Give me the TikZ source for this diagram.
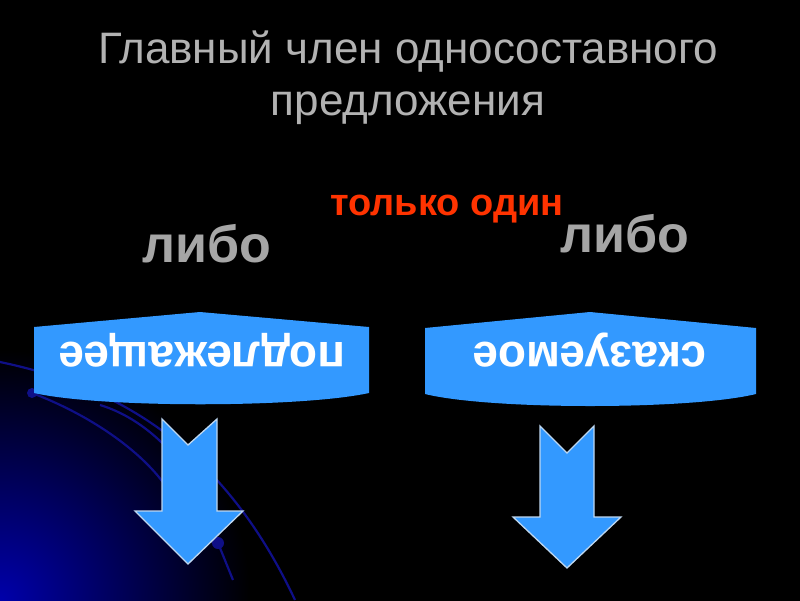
\documentclass[tikz,border=0pt]{standalone}
\usepackage{fontspec}
\setmainfont{Liberation Sans}
\definecolor{bannerblue}{RGB}{51,153,255}
\definecolor{arrowedge}{RGB}{190,215,240}
\definecolor{titlegray}{RGB}{178,178,178}
\definecolor{ligray}{RGB}{166,166,166}
\definecolor{redtxt}{RGB}{255,51,0}
\definecolor{bgblue}{RGB}{0,0,170}
\definecolor{swoosh}{RGB}{15,15,135}
\tikzset{
  titletext/.style={text=titlegray, font=\fontsize{44}{52}\selectfont, anchor=base, inner sep=0pt},
  libotext/.style={text=ligray, font=\bfseries\fontsize{52}{60}\selectfont, anchor=base, inner sep=0pt},
  bannertext/.style={text=white, font=\bfseries\fontsize{46}{50}\selectfont, anchor=base, rotate=180, inner sep=0pt},
  banner/.style={fill=bannerblue},
  downarrow/.style={fill=bannerblue, draw=arrowedge, line width=1.3pt, line join=miter},
  swooshline/.style={draw=swoosh, line width=2.2pt}
}
\begin{document}
\begin{tikzpicture}[x=1pt,y=-1pt]
\useasboundingbox (0,0) rectangle (800,600);
\fill[black] (-5,-5) rectangle (805,605);
\begin{scope}
  \clip (0,0) rectangle (800,600);
  \shade[inner color=bgblue, outer color=black] (0,600) circle (250);
  % swoosh lines
  \draw[swooshline] (0,362) .. controls (110,385) and (220,440) .. (295,600);
  \draw[swooshline] (32,393) .. controls (90,415) and (140,450) .. (165,485);
  \draw[swooshline] (100,405) .. controls (150,420) and (200,470) .. (218,543) -- (233,580);
  \fill[swoosh] (32,393) circle (5);
  \fill[swoosh] (218,543) circle (6);
\end{scope}
% title
\node[titletext] (t1) at (408,63) {Главный член односоставного};
\node[titletext] (t2) at (408,115) {предложения};
% labels
\node[text=redtxt, font=\bfseries\fontsize{38}{44}\selectfont, anchor=base, inner sep=0pt] (only) at (447,215) {только один};
\node[libotext] (libo1) at (207,262) {либо};
\node[libotext] (libo2) at (625,252) {либо};
% banners
\path[banner] (34,327) -- (200,312) -- (369,327) -- (369,393) .. controls (300,408) and (100,408) .. (34,393) -- cycle;
\path[banner] (425,328) -- (590,312) -- (756,328) -- (756,394) .. controls (690,410) and (490,410) .. (425,394) -- cycle;
\node[bannertext] (subj) at (202,342) {подлежащее};
\node[bannertext] (pred) at (590,342) {сказуемое};
% arrows
\path[downarrow] (162,419) -- (188,445) -- (217,419) -- (217,511) -- (243,511) -- (188,564) -- (135,511) -- (162,511) -- cycle;
\path[downarrow] (540,426) -- (567,453) -- (594,426) -- (594,517) -- (621,517) -- (567,568) -- (513,517) -- (540,517) -- cycle;
\end{tikzpicture}
\end{document}
